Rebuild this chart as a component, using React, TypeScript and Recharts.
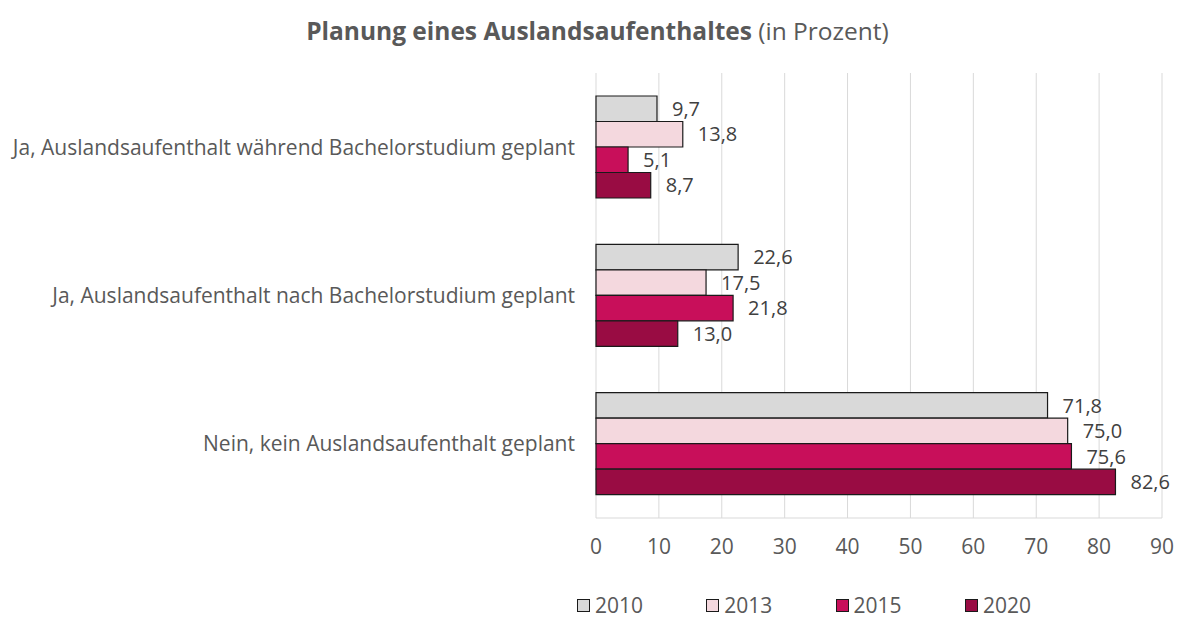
import React from "react";
import { BarChart, Bar, XAxis, YAxis, CartesianGrid, LabelList } from "recharts";

const categories = [
  "Ja, Auslandsaufenthalt während Bachelorstudium geplant",
  "Ja, Auslandsaufenthalt nach Bachelorstudium geplant",
  "Nein, kein Auslandsaufenthalt geplant",
];
const years = ["2010", "2013", "2015", "2020"];
const values2010 = [9.7, 22.6, 71.8];
const values2013 = [13.8, 17.5, 75.0];
const values2015 = [5.1, 21.8, 75.6];
const values2020 = [8.7, 13.0, 82.6];
const xTicks = [0, 10, 20, 30, 40, 50, 60, 70, 80, 90];
const colors = ["#D9D9D9", "#F4D8DE", "#C80F5A", "#990C43"];

const data = categories.map((name, i) => ({
  name,
  y2010: values2010[i],
  y2013: values2013[i],
  y2015: values2015[i],
  y2020: values2020[i],
}));
const keys = ["y2010", "y2013", "y2015", "y2020"];

const FONT = "'Open Sans', 'Liberation Sans', sans-serif";
const TEXT = "#595959";

const fmt = (v: any) => Number(v).toFixed(1).replace(".", ",");

export default function App() {
  return (
    <div style={{ position: "absolute", left: 0, top: 0, width: 1181, height: 619, background: "#fff", fontFamily: FONT }}>
      <div style={{ position: "absolute", left: 0, width: 1195, top: 14, textAlign: "center", fontSize: 24.5, color: TEXT, whiteSpace: "nowrap" }}>
        <span style={{ fontWeight: 700 }}>Planung eines Auslandsaufenthaltes</span> (in Prozent)
      </div>
      <BarChart
        width={1181}
        height={619}
        data={data}
        layout="vertical"
        margin={{ top: 73, right: 19, bottom: 61, left: 0 }}
        barGap={0}
        barSize={25.5}
        style={{ fontFamily: FONT }}
      >
        <CartesianGrid horizontal={false} stroke="#D9D9D9" strokeWidth={1} />
        <XAxis
          type="number"
          domain={[0, 90]}
          ticks={xTicks}
          height={40}
          tickLine={false}
          tickSize={0}
          tickMargin={21}
          axisLine={{ stroke: "#D9D9D9" }}
          tick={{ fill: TEXT, fontSize: 21, fontFamily: FONT }}
          interval={0}
        />
        <YAxis
          type="category"
          dataKey="name"
          width={596}
          tickLine={false}
          tickSize={0}
          tickMargin={21}
          axisLine={false}
          tick={{ fill: TEXT, fontSize: 21, fontFamily: FONT }}
          interval={0}
        />
        {keys.map((k, i) => (
          <Bar key={k} dataKey={k} name={years[i]} fill={colors[i]} stroke="#1A1A1A" strokeWidth={1.2} isAnimationActive={false}>
            <LabelList dataKey={k} position="right" offset={15} formatter={fmt} fill="#404040" fontSize={20} fontFamily={FONT} />
          </Bar>
        ))}
      </BarChart>
      <div style={{ position: "absolute", top: 591, left: 0, width: 1181, height: 29 }}>
        {years.map((y, i) => (
          <div key={y} style={{ position: "absolute", left: 577 + i * 129.3, top: 0, display: "flex", alignItems: "center", fontSize: 21, color: TEXT }}>
            <span style={{ display: "inline-block", boxSizing: "border-box", width: 13, height: 13, background: colors[i], border: "1px solid #1A1A1A", marginRight: 5 }} />
            {y}
          </div>
        ))}
      </div>
    </div>
  );
}
